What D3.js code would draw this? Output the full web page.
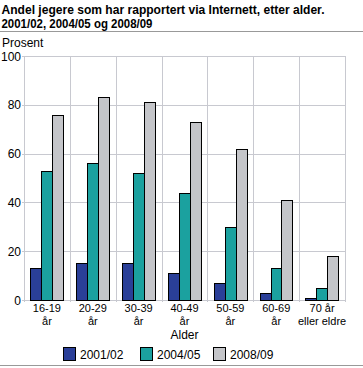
<!DOCTYPE html>
<html><head><meta charset="utf-8">
<script src="https://cdn.jsdelivr.net/npm/d3@7"></script>
<style>body{margin:0;background:#fff}svg{display:block}text{font-family:"Liberation Sans",Arial,sans-serif}</style>
</head><body>
<script>
const categories = [["16-19","år"],["20-29","år"],["30-39","år"],["40-49","år"],["50-59","år"],["60-69","år"],["70 år","eller eldre"]];
const seriesNames = ["2001/02","2004/05","2008/09"];
const s2001 = [13,15,15,11,7,3,1];
const s2004 = [53,56,52,44,30,13,5];
const s2008 = [76,83,81,73,62,41,18];
const yTicks = [0,20,40,60,80,100];
const colors = ["#2a3f98","#1ba19f","#c4c5c9"];

const W=363,H=368;
const svg=d3.select("body").append("svg").attr("width",W).attr("height",H);
svg.append("text").attr("x",1.5).attr("y",14).attr("font-size",12.3).attr("font-weight","bold")
  .attr("textLength",323).attr("lengthAdjust","spacingAndGlyphs").text("Andel jegere som har rapportert via Internett, etter alder.");
svg.append("text").attr("x",1.5).attr("y",28).attr("font-size",12.3).attr("font-weight","bold")
  .attr("textLength",151).attr("lengthAdjust","spacingAndGlyphs").text("2001/02, 2004/05 og 2008/09");
svg.append("line").attr("x1",0).attr("x2",W).attr("y1",31.5).attr("y2",31.5).attr("stroke","#999");
svg.append("line").attr("x1",0).attr("x2",W).attr("y1",365.5).attr("y2",365.5).attr("stroke","#999");
svg.append("text").attr("x",2).attr("y",46.5).attr("font-size",12).text("Prosent");

const L=24,R=345,T=56,B=300;
const x=d3.scaleBand().domain(d3.range(categories.length)).range([L,R]);
const y=d3.scaleLinear().domain([0,100]).range([B,T]);
const xs=d3.scaleBand().domain(d3.range(3)).range([6.3,x.bandwidth()-6.8]);
const g=svg.append("g");
g.selectAll(".hg").data(yTicks).join("line").attr("x1",L-2).attr("x2",R).attr("y1",d=>Math.round(y(d))+0.5).attr("y2",d=>Math.round(y(d))+0.5).attr("stroke","#c8c9d0");
g.selectAll(".vg").data(d3.range(categories.length+1)).join("line").attr("x1",i=>Math.round(L+i*x.bandwidth())+0.5).attr("x2",i=>Math.round(L+i*x.bandwidth())+0.5).attr("y1",T).attr("y2",B+2).attr("stroke","#c8c9d0");
g.selectAll(".yl").data(yTicks).join("text").attr("x",L-3).attr("y",d=>y(d)+4.5).attr("text-anchor","end").attr("font-size",12).text(d=>d);
const series=[s2001,s2004,s2008];
series.forEach((s,si)=>{
  g.selectAll(".b"+si).data(s).join("rect")
   .attr("x",(d,i)=>Math.round(x(i)+xs(si))+0.5).attr("width",Math.round(xs.bandwidth()))
   .attr("y",d=>Math.round(y(d))+0.5).attr("height",d=>Math.round(B-y(d)))
   .attr("fill",colors[si]).attr("stroke","#000").attr("stroke-width",1);
});
categories.forEach((c,i)=>{
  const cx=x(i)+x.bandwidth()/2;
  g.append("text").attr("text-anchor","middle").attr("font-size",11).attr("x",cx).attr("y",312.3).text(c[0]);
  g.append("text").attr("text-anchor","middle").attr("font-size",11).attr("x",cx).attr("y",324.7).text(c[1]);
});
svg.append("text").attr("x",(L+R)/2).attr("y",339).attr("text-anchor","middle").attr("font-size",12).text("Alder");
const lx=[63,140,213];
seriesNames.forEach((n,i)=>{
  svg.append("rect").attr("x",lx[i]+0.5).attr("y",347.5).attr("width",12).attr("height",13).attr("fill",colors[i]).attr("stroke","#000");
  svg.append("text").attr("x",lx[i]+17).attr("y",359).attr("font-size",12).text(n);
});
</script>
</body></html>
